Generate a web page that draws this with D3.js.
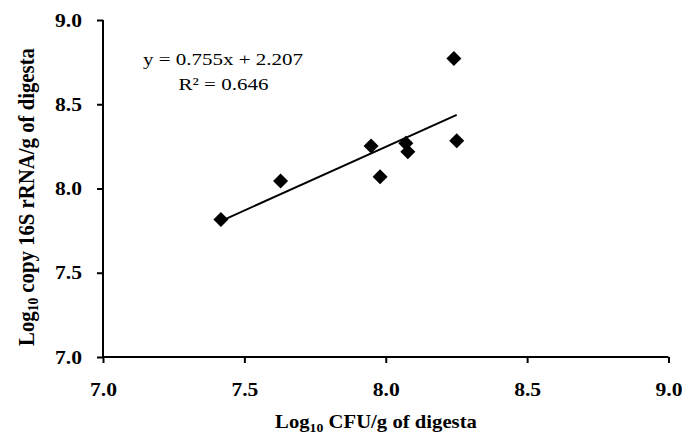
<!DOCTYPE html>
<html><head><meta charset="utf-8">
<script src="https://cdn.jsdelivr.net/npm/d3@7"></script>
<style>body{margin:0;background:#fff}svg{display:block}</style>
</head><body>
<svg id="c" width="682" height="435"></svg>
<script>
const xValues = [7.417, 7.628, 7.948, 7.980, 8.071, 8.078, 8.241, 8.251];
const yValues = [7.816, 8.045, 8.252, 8.069, 8.268, 8.218, 8.772, 8.283];
const xTicks = [7.0, 7.5, 8.0, 8.5, 9.0];
const yTicks = [7.0, 7.5, 8.0, 8.5, 9.0];
const slope = 0.755, intercept = 2.207;
const eqLines = ["y = 0.755x + 2.207", "R² = 0.646"];

const svg = d3.select("#c");
const x = d3.scaleLinear().domain([7, 9]).range([103, 668.5]);
const y = d3.scaleLinear().domain([7, 9]).range([357, 20]);
const serif = "'Liberation Serif','Times New Roman',serif";
const SX = 1.2;

// axes
const xAxis = d3.axisBottom(x).tickValues(xTicks).tickSize(6).tickFormat(d3.format(".1f"));
const yAxis = d3.axisLeft(y).tickValues(yTicks).tickSize(6).tickFormat(d3.format(".1f"));
const gx = svg.append("g").attr("transform", "translate(0,357)").call(xAxis);
const gy = svg.append("g").attr("transform", "translate(103,0)").call(yAxis);
[gx, gy].forEach(g => {
  g.select(".domain").attr("stroke", "#000").attr("stroke-width", 2);
  g.selectAll(".tick line").attr("stroke", "#000").attr("stroke-width", 2);
  g.selectAll(".tick text").attr("fill", "#000").attr("font-family", serif)
   .attr("font-weight", "bold").attr("font-size", 18);
});
gx.selectAll(".domain").attr("d", "M103,0H668.5");
gy.selectAll(".domain").attr("d", "M0,357V20");
gx.selectAll(".tick text").attr("y", 0).attr("dy", 0)
  .attr("transform", `translate(0,39) scale(${SX},1)`);
gy.selectAll(".tick text").attr("x", 0).attr("dy", 0).attr("text-anchor", "end")
  .attr("transform", `translate(-21,6) scale(${SX},1)`);

// regression line
const xmin = d3.min(xValues), xmax = d3.max(xValues);
svg.append("line")
  .attr("x1", x(xmin)).attr("y1", y(slope * xmin + intercept))
  .attr("x2", x(xmax)).attr("y2", y(slope * xmax + intercept))
  .attr("stroke", "#000").attr("stroke-width", 2);

// points
const r = 7.5;
svg.append("g").selectAll("path").data(xValues.map((v, i) => [v, yValues[i]])).join("path")
  .attr("d", d => `M${x(d[0])},${y(d[1]) - r}L${x(d[0]) + r},${y(d[1])}L${x(d[0])},${y(d[1]) + r}L${x(d[0]) - r},${y(d[1])}Z`)
  .attr("fill", "#000");

// equation
svg.append("text").attr("transform", `translate(223,65) scale(${SX},1)`)
  .attr("text-anchor", "middle").attr("font-family", serif).attr("font-size", 17.5)
  .attr("fill", "#000").text(eqLines[0]);
svg.append("text").attr("transform", `translate(223.5,90) scale(${SX},1)`)
  .attr("text-anchor", "middle").attr("font-family", serif).attr("font-size", 17.5)
  .attr("fill", "#000").text(eqLines[1]);

// x title
const xt = svg.append("text")
  .attr("text-anchor", "middle").attr("font-family", serif).attr("font-weight", "bold")
  .attr("font-size", 18).attr("fill", "#000");
xt.append("tspan").text("Log");
xt.append("tspan").attr("font-size", 12).attr("dy", 4).text("10");
xt.append("tspan").attr("dy", -4).text(" CFU/g of digesta");
const xl = xt.node().getComputedTextLength();
xt.attr("transform", `translate(376,428) scale(${202 / xl},1)`);

// y title
const yt = svg.append("text")
  .attr("text-anchor", "middle").attr("font-family", serif).attr("font-weight", "bold")
  .attr("font-size", 20).attr("fill", "#000");
yt.append("tspan").text("Log");
yt.append("tspan").attr("font-size", 13).attr("dy", 4).text("10");
yt.append("tspan").attr("dy", -4).text(" copy 16S rRNA/g of digesta");
const yl = yt.node().getComputedTextLength();
yt.attr("transform", `translate(33.5,197) rotate(-90) scale(${298 / yl},1.2)`);
</script>
</body></html>
